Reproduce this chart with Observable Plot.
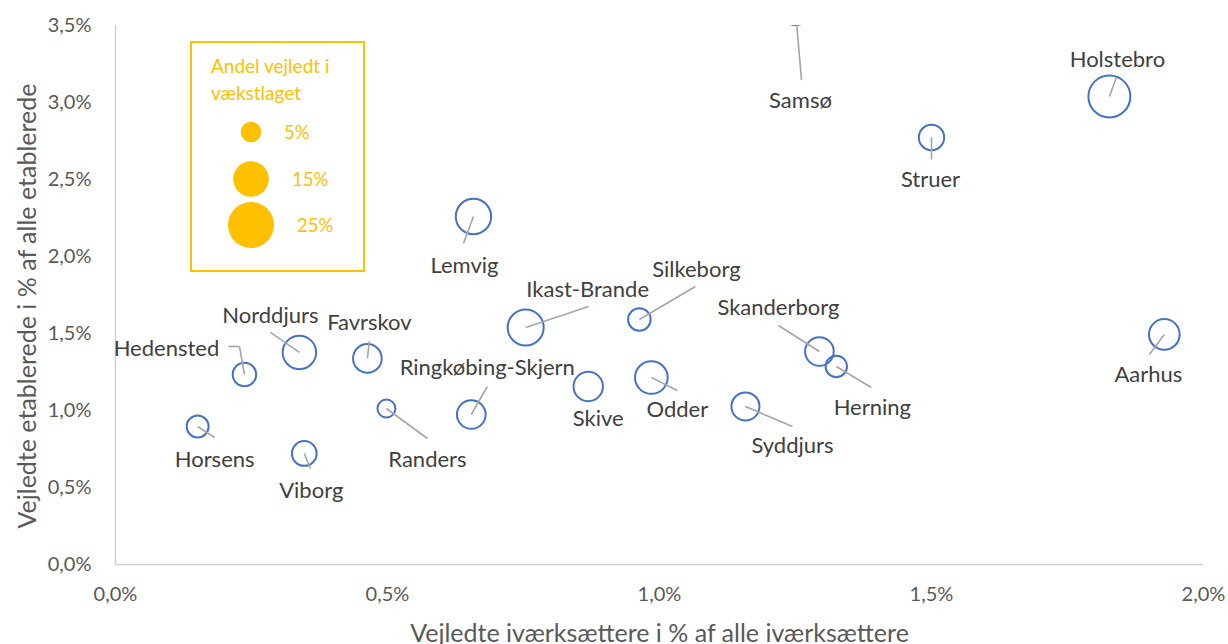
<!DOCTYPE html>
<html><head><meta charset="utf-8">
<script src="https://cdn.jsdelivr.net/npm/d3@7"></script>
<script src="https://cdn.jsdelivr.net/npm/@observablehq/plot@0.6"></script>
<style>
body{margin:0;background:#fff;}
#wrap{position:relative;width:1228px;height:644px;overflow:hidden;font-family:Lato, "Open Sans", sans-serif;}
#wrap svg{position:absolute;left:0;top:0;}
</style></head><body><div id="wrap"></div>
<script>
// ---- data ----
const names = ["Samsø","Holstebro","Struer","Lemvig","Silkeborg","Ikast-Brande","Skanderborg","Herning","Aarhus","Syddjurs","Odder","Skive","Ringkøbing-Skjern","Randers","Favrskov","Norddjurs","Hedensted","Horsens","Viborg"];
const xVals = [1.250,1.827,1.500,0.658,0.963,0.754,1.294,1.325,1.928,1.158,0.985,0.869,0.654,0.498,0.463,0.338,0.237,0.151,0.347];
const yVals = [3.60,3.039,2.773,2.260,1.591,1.539,1.383,1.286,1.494,1.026,1.214,1.156,0.974,1.013,1.338,1.377,1.234,0.896,0.721];
const sizes = [10.6,20.8,7.6,14.8,6.0,15.3,9.7,5.4,11.1,9.3,12.6,10.2,9.7,3.8,9.7,13.2,6.5,5.7,7.2];
const xTicks = [0,0.5,1,1.5,2];
const yTicks = [0,0.5,1,1.5,2,2.5,3,3.5];
const legendSizes = [5,15,25];
const legendLabels = ["5%","15%","25%"];
const xTitle = "Vejledte iværksættere i % af alle iværksættere";
const yTitle = "Vejledte etablerede i % af alle etablerede";
const legendTitle = ["Andel vejledt i","vækstlaget"];

// ---- layout: label offsets and leader paths (pixels, relative to the bubble) ----
const labelOffsets = {
  "Samsø":[5,91], "Holstebro":[8,-37], "Struer":[-1,42], "Lemvig":[-9,49],
  "Silkeborg":[57,-50], "Ikast-Brande":[62,-38], "Skanderborg":[-41,-44],
  "Herning":[36,41], "Aarhus":[-16,41], "Syddjurs":[47,39], "Odder":[26,32],
  "Skive":[10,32], "Ringkøbing-Skjern":[16,-47], "Randers":[41,51],
  "Favrskov":[2,-35], "Norddjurs":[-29,-36], "Hedensted":[-78,-26],
  "Horsens":[17,33], "Viborg":[7,37]
};
const leaderPaths = {
  "Samsø":[[6,70]], "Holstebro":[[7,-19]], "Struer":[[0,22]], "Lemvig":[[-10,27]],
  "Silkeborg":[[56,-33]], "Ikast-Brande":[[63,-21]], "Skanderborg":[[-41,-26]],
  "Herning":[[35,21]], "Aarhus":[[-15,20]], "Syddjurs":[[47,20]], "Odder":[[26,13]],
  "Ringkøbing-Skjern":[[16,-28]], "Randers":[[41,30]], "Favrskov":[[2,-17]],
  "Norddjurs":[[-29,-20]], "Hedensted":[[-5,-28],[-16,-28]],
  "Horsens":[[17,11]], "Viborg":[[6,15]]
};

const W = 1228, H = 644, mL = 115, mR = 25, mT = 25, mB = 80;
const fmt = d => d.toFixed(1).replace(".", ",") + "%";
const sx = Plot.scale({x:{domain:[0,2], range:[mL, W - mR]}});
const sy = Plot.scale({y:{domain:[0,3.5], range:[H - mB, mT]}});

const data = names.map((n,i) => ({name:n, x:xVals[i], y:yVals[i], size:sizes[i]}));
const labels = data.map(d => {
  const o = labelOffsets[d.name];
  return {name:d.name, x: sx.invert(sx.apply(d.x) + o[0]), y: sy.invert(sy.apply(d.y) + o[1])};
});
const segs = [];
data.forEach(d => {
  const p = leaderPaths[d.name]; if (!p) return;
  let px = sx.apply(d.x), py = sy.apply(d.y);
  p.forEach(([dx,dy]) => {
    const qx = sx.apply(d.x) + dx, qy = sy.apply(d.y) + dy;
    segs.push({x1:sx.invert(px), y1:sy.invert(py), x2:sx.invert(qx), y2:sy.invert(qy)});
    px = qx; py = qy;
  });
});

const chart = Plot.plot({
  width: W, height: H, marginLeft: mL, marginRight: mR, marginTop: mT, marginBottom: mB,
  style: {fontFamily: "Lato, 'Open Sans', sans-serif", fontSize: "20px", color: "#595959", background: "transparent", overflow: "visible"},
  x: {domain:[0,2], ticks: xTicks, tickFormat: fmt, tickSize: 0, tickPadding: 22, label: null},
  y: {domain:[0,3.5], ticks: yTicks, tickFormat: fmt, tickSize: 0, tickPadding: 24, label: null},
  r: {type: "sqrt", domain: [0,25], range: [0,23]},
  marks: [
    Plot.ruleX([0], {stroke: "#d0d0d0", strokeWidth: 1.5}),
    Plot.ruleY([0], {stroke: "#d0d0d0", strokeWidth: 1.5}),
    Plot.dot(data, {x: "x", y: "y", r: "size", stroke: "#4472c4", strokeWidth: 2, fill: "none", clip: true}),
    Plot.link(segs, {x1: "x1", y1: "y1", x2: "x2", y2: "y2", stroke: "#a5a5a5", strokeWidth: 1.6, clip: true}),
    Plot.text(labels, {x: "x", y: "y", text: "name", fontSize: 22, fill: "#404040"}),
    Plot.text([xTitle], {frameAnchor: "bottom", textAnchor: "middle", lineAnchor: "middle", dy: 69, fontSize: 25, fill: "#595959"}),
    Plot.text([yTitle], {frameAnchor: "left", textAnchor: "middle", lineAnchor: "middle", rotate: -90, dx: -88, dy: 11, fontSize: 25, fill: "#595959"})
  ]
});
const wrap = document.getElementById("wrap");
wrap.appendChild(chart);

// ---- legend overlay (bubble sizes from the chart's r scale) ----
const rs = chart.scale("r");
const lg = d3.select(wrap).append("svg").attr("width", W).attr("height", H)
  .style("pointer-events","none").style("font-family","Lato, 'Open Sans', sans-serif");
lg.append("rect").attr("x",191).attr("y",42).attr("width",173).attr("height",229)
  .attr("fill","#fff").attr("stroke","#ffc000").attr("stroke-width",2);
lg.selectAll("text.t").data(legendTitle).join("text").attr("class","t")
  .attr("x",211).attr("y",(d,i)=>66 + i*27).attr("dy","0.35em")
  .attr("fill","#ffc000").attr("font-size",19).text(d=>d);
const cy = [132,179,225], tx = [284,292,297];
lg.selectAll("circle").data(legendSizes).join("circle")
  .attr("cx",251).attr("cy",(d,i)=>cy[i]).attr("r",d=>rs.apply(d)).attr("fill","#ffc000");
lg.selectAll("text.l").data(legendLabels).join("text").attr("class","l")
  .attr("x",(d,i)=>tx[i]).attr("y",(d,i)=>cy[i]+1).attr("dy","0.35em")
  .attr("fill","#ffc000").attr("font-size",18.5).text(d=>d);
</script></body></html>
